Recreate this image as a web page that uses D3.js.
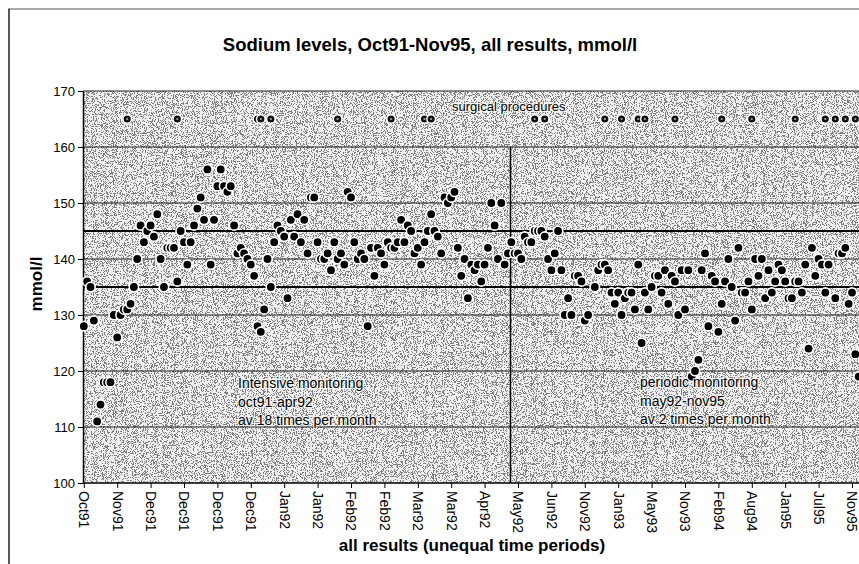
<!DOCTYPE html>
<html lang="en">
<head>
<meta charset="UTF-8" />
<title>Sodium levels</title>
<style>
  body { margin: 0; background: #fff; }
  svg { display: block; font-family: "Liberation Sans", Arial, sans-serif; }
</style>
</head>
<body>
<div class="chart"></div>
<script src="https://cdn.jsdelivr.net/npm/d3@7"></script>
<script>
// one value per result, in order (null = no result in that slot)
const sodiumIntensive = [
  128,136,135,129,111,114,118,118,118,130, 126,130,131,131,132,135,140,146,143,145,
  146,144,148,140,135,142,142,142,136,145, 143,139,143,146,149,151,147,156,139,147,
  153,156,153,152,153,146,141,142,141,140, 139,137,128,127,131,140,135,143,146,145,
  144,133,147,144,148,143,147,141,151,151, 143,140,140,141,138,143,140,141,139,152,
  151,143,140,141,140,128,142,137,142,141, 139,143,142,142,143,147,143,146,145,141,
  142,139,143,145,148,145,144,141,151,150, 151,152,142,137,140,133,139,138,139,136,
  139,142,150,146,140,150,139,141
];
const sodiumPeriodic = [
  143,141,141,140,144,143,143,145,145,145, 144,140,138,141,145,138,130,133,130,137,
  137,136,129,130,null,135,138,139,139,138, 134,132,134,130,133,134,134,131,139,125,
  134,131,135,137,137,134,138,132,137,136, 130,138,131,138,119,120,122,138,141,128,
  137,136,127,132,136,140,135,129,142,134, 134,136,131,140,137,140,133,138,134,136,
  139,138,136,133,133,136,136,134,139,124, 142,137,140,139,134,139,null,133,141,141,
  142,132,134,123,119
];
const sodium = sodiumIntensive.concat(sodiumPeriodic);

// result slots with a surgical procedure
const surgicalSlots = [13, 28, 52, 53, 56, 76, 92, 102, 104, 135, 138, 156, 161,
  166, 168, 177, 191, 200, 213, 222, 225, 228, 231];
const surgicalLevel = 165;

const tickLabels = ["Oct91","Nov91","Dec91","Dec91","Dec91","Dec91","Jan92","Jan92",
  "Feb92","Feb92","Mar92","Mar92","Apr92","May92","Jun92","Nov92","Jan93","May93",
  "Nov93","Feb94","Aug94","Jan95","Jul95","Nov95"];
const labelEvery = 10;
const yTicks = [100, 110, 120, 130, 140, 150, 160, 170];
const normalRange = [135, 145];
const splitAt = 127.75;   // boundary between the two monitoring periods

const width = 859, height = 564;
const plotLeft = 83, plotTop = 91, plotBottom = 483;

const svg = d3.select(".chart").append("svg")
  .attr("width", width)
  .attr("height", height);

// stippled grey plot background
const defs = svg.append("defs");
const f = defs.append("filter").attr("id", "stipple")
  .attr("x", 0).attr("y", 0).attr("width", 1).attr("height", 1)
  .attr("color-interpolation-filters", "sRGB");
f.append("feTurbulence").attr("type", "fractalNoise")
  .attr("baseFrequency", 1.1).attr("numOctaves", 1).attr("seed", 4).attr("result", "n");
f.append("feColorMatrix").attr("type", "matrix")
  .attr("values", "1 0 0 0 0  1 0 0 0 0  1 0 0 0 0  0 0 0 0 1");
const ct = f.append("feComponentTransfer");
const table = d3.range(20).map(i => i < 9 ? 0.5 : 0.94).join(" ");
["feFuncR", "feFuncG", "feFuncB"].forEach(t =>
  ct.append(t).attr("type", "discrete").attr("tableValues", table));

const x = d3.scaleLinear().domain([0, 240]).range([83.8, 83.8 + 3.34 * 240]);
const y = d3.scaleLinear().domain([100, 170]).range([plotBottom, plotTop]);

// chart frame (cropped page)
svg.append("line").attr("x1", 8).attr("x2", width).attr("y1", 9).attr("y2", 9)
  .attr("stroke", "#555").attr("stroke-width", 1);
svg.append("line").attr("x1", 9).attr("x2", 9).attr("y1", 9).attr("y2", height)
  .attr("stroke", "#222").attr("stroke-width", 1.5);

svg.append("rect")
  .attr("x", plotLeft).attr("y", plotTop)
  .attr("width", width - plotLeft + 20).attr("height", plotBottom - plotTop)
  .attr("fill", "#c4c4c4")
  .attr("filter", "url(#stipple)");

// gridlines
svg.append("g").selectAll("line")
  .data(yTicks.filter(v => v > 100))
  .join("line")
  .attr("x1", plotLeft).attr("x2", width)
  .attr("y1", d => y(d)).attr("y2", d => y(d))
  .attr("stroke", "#222").attr("stroke-width", 1);

// normal range lines
svg.append("g").selectAll("line")
  .data(normalRange)
  .join("line")
  .attr("x1", plotLeft).attr("x2", width)
  .attr("y1", d => y(d)).attr("y2", d => y(d))
  .attr("stroke", "#000").attr("stroke-width", 2.2);

// period split
svg.append("line")
  .attr("x1", x(splitAt)).attr("x2", x(splitAt))
  .attr("y1", y(160)).attr("y2", y(100))
  .attr("stroke", "#000").attr("stroke-width", 1.5);

// axes
const yAxis = svg.append("g")
  .attr("transform", `translate(${plotLeft},0)`)
  .call(d3.axisLeft(y).tickValues(yTicks).tickSize(5).tickSizeOuter(0).tickPadding(3));
yAxis.selectAll("text").attr("font-size", 13).attr("fill", "#000")
  .attr("font-family", "Liberation Sans, Arial, sans-serif");
yAxis.select(".domain").attr("stroke-width", 1.5);

const xAxis = svg.append("g")
  .attr("transform", `translate(0,${plotBottom})`)
  .call(d3.axisBottom(x)
    .tickValues(tickLabels.map((_, k) => k * labelEvery))
    .tickFormat((d, i) => tickLabels[i])
    .tickSize(5).tickSizeOuter(0));
xAxis.select(".domain").attr("d", `M${plotLeft},0H${width}`).attr("stroke-width", 1.5);
xAxis.selectAll("text")
  .attr("transform", "rotate(90)")
  .attr("x", 8).attr("y", 0).attr("dy", "0.36em")
  .attr("text-anchor", "start")
  .attr("font-size", 14).attr("fill", "#000")
  .attr("font-family", "Liberation Sans, Arial, sans-serif");

// sodium results
const pts = sodium.map((v, i) => ({ i, v })).filter(d => d.v !== null);
svg.append("g").selectAll("circle")
  .data(pts)
  .join("circle")
  .attr("cx", d => x(d.i)).attr("cy", d => y(d.v))
  .attr("r", 4.7)
  .attr("fill", "#000")
  .attr("stroke", "#fff").attr("stroke-width", 1.6);

// surgical procedures
const surg = svg.append("g").selectAll("g")
  .data(surgicalSlots)
  .join("g")
  .attr("transform", d => `translate(${x(d)},${y(surgicalLevel)})`);
surg.append("circle").attr("r", 4.3).attr("fill", "#111")
  .attr("stroke", "#fff").attr("stroke-width", 1.5);
surg.append("circle").attr("r", 1.1).attr("fill", "#aaa");

// text
svg.append("text")
  .attr("x", 430).attr("y", 51)
  .attr("text-anchor", "middle")
  .attr("font-size", 18.5).attr("font-weight", "bold")
  .text("Sodium levels, Oct91-Nov95, all results, mmol/l");

svg.append("text")
  .attr("transform", "translate(42,284) rotate(-90)")
  .attr("text-anchor", "middle")
  .attr("font-size", 17).attr("font-weight", "bold")
  .text("mmol/l");

svg.append("text")
  .attr("x", 472).attr("y", 551)
  .attr("text-anchor", "middle")
  .attr("font-size", 17).attr("font-weight", "bold")
  .text("all results (unequal time periods)");

// labels inside the plot get a light halo, as on the original print
const inPlot = svg.append("g")
  .attr("stroke", "#fff").attr("stroke-width", 2.2).attr("stroke-opacity", 0.8)
  .attr("stroke-linejoin", "round").attr("paint-order", "stroke");

inPlot.append("text")
  .attr("x", 452).attr("y", 111)
  .attr("font-size", 13)
  .text("surgical procedures");

const notes = [
  { x: 238, y: 388, lines: ["Intensive monitoring", "oct91-apr92", "av 18 times per month"] },
  { x: 640, y: 387, lines: ["periodic monitoring", "may92-nov95", "av 2 times per month"] }
];
notes.forEach(n => {
  inPlot.append("g").selectAll("text")
    .data(n.lines)
    .join("text")
    .attr("x", n.x).attr("y", (d, i) => n.y + i * 18.6)
    .attr("font-size", 14)
    .text(d => d);
});
</script>
</body>
</html>
